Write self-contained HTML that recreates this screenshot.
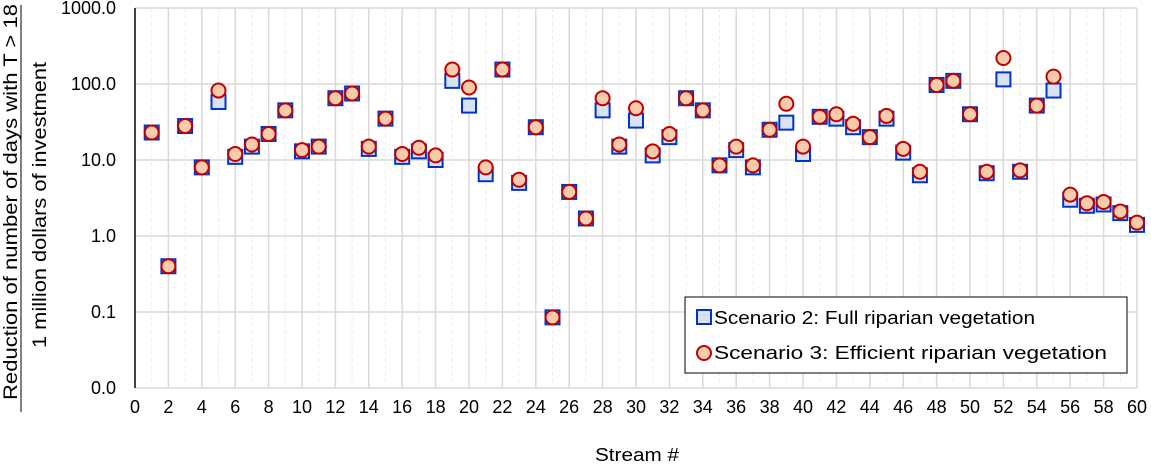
<!DOCTYPE html>
<html><head><meta charset="utf-8"><style>
body{margin:0;background:#fff;}
svg text{font-family:"Liberation Sans",sans-serif;fill:#000;}
</style></head><body>
<svg id="chart" width="1151" height="463" xmlns="http://www.w3.org/2000/svg">
<g id="grid"></g>
<g id="axes"></g>
<g id="marks"></g>
<text x="637" y="461" font-size="18" text-anchor="middle" textLength="84" lengthAdjust="spacingAndGlyphs">Stream #</text>
<g>
<text x="0" y="0" font-size="19" text-anchor="middle" textLength="396" lengthAdjust="spacingAndGlyphs" transform="translate(17,202) rotate(-90)">Reduction of number of days with T &gt; 18</text>
<line x1="21" y1="5" x2="21" y2="412" stroke="#000" stroke-width="1"/>
<text x="0" y="0" font-size="19" text-anchor="middle" textLength="286" lengthAdjust="spacingAndGlyphs" transform="translate(46,205) rotate(-90)">1 million dollars of investment</text>
</g>
<g>
<rect x="685" y="297" width="442" height="76" fill="#fff" stroke="#000" stroke-width="1"/>
<g>
<rect x="697" y="310" width="14" height="14" fill="#dae3f3" stroke="#0033cc" stroke-width="2"/>
<text x="714" y="324" font-size="18" textLength="321" lengthAdjust="spacingAndGlyphs">Scenario 2: Full riparian vegetation</text>
</g>
<g>
<circle cx="704" cy="353" r="7" fill="#f8cbad" stroke="#c00000" stroke-width="2"/>
<text x="714" y="359" font-size="18" textLength="393" lengthAdjust="spacingAndGlyphs">Scenario 3: Efficient riparian vegetation</text>
</g>
</g>
</svg>
<script>
const streams=[];for(let i=1;i<=60;i++)streams.push(i);
const scenario2=[23,0.4,28,8,58,11,15,22,45,13,15,65,75,14,35,11,13,10,110,52,6.5,155,5,27,0.085,3.8,1.7,45,15,33,11.5,20,65,45,8.5,13.5,8,25,31,12,37,35,27,20,35,12.5,6.3,97,110,40,6.7,115,7,52,82,3.0,2.5,2.6,2.0,1.4];
const scenario3=[23,0.4,28,8,82,12,16,22,45,13.5,15,65,75,15,35,12,14.5,11.5,155,90,8,155,5.5,27,0.085,3.8,1.7,65,16,48,13,22,65,45,8.5,15,8.5,25,55,15,37,40,30,20,38,14,7,97,110,40,7,220,7.3,52,125,3.5,2.7,2.8,2.1,1.5];
const yTicks=[0.01,0.1,1,10,100,1000];
const yTickLabels=["0.0","0.1","1.0","10.0","100.0","1000.0"];
const xTicks=[];for(let i=0;i<=60;i+=2)xTicks.push(i);

const X0=135,X1=1137,Y0=388,Y1=8;
function xs(v){return X0+(v-0)/60*(X1-X0);}
function ys(v){return Y0-(Math.log10(v)+2)/5*(Y0-Y1);}
const NS="http://www.w3.org/2000/svg";
function mk(tag,attrs,parent){const e=document.createElementNS(NS,tag);for(const k in attrs)e.setAttribute(k,attrs[k]);parent.appendChild(e);return e;}
const grid=document.getElementById('grid'),axes=document.getElementById('axes'),marks=document.getElementById('marks');
for(let i=1;i<=60;i++){
  const l=mk('line',{x1:xs(i),x2:xs(i),y1:Y1,y2:Y0,stroke:i%2?'#ececec':'#d9d9d9','stroke-width':i%2?1:1.5},grid);
  if(i%2)l.setAttribute('stroke-dasharray','4,3');
  
  
}
yTicks.forEach((t,i)=>{
  const l=mk('line',{x1:X0,x2:X1,y1:ys(t),y2:ys(t),stroke:'#d9d9d9','stroke-width':1.5},grid);
  
  
  const tx=mk('text',{x:116,y:ys(t)+6,'font-size':18,'text-anchor':'end'},axes);
  tx.textContent=yTickLabels[i];
  
  
});
xTicks.forEach(t=>{
  const tx=mk('text',{x:xs(t),y:413,'font-size':18,'text-anchor':'middle'},axes);
  tx.textContent=t;
  
  
});
const ax=mk('line',{x1:X0,x2:X0,y1:Y1,y2:Y0,stroke:'#404040','stroke-width':2},axes);


streams.forEach((s,i)=>{
  const r=mk('rect',{x:xs(s)-7,y:ys(scenario2[i])-7,width:14,height:14,fill:'#dae3f3',stroke:'#0033cc','stroke-width':2},marks);
  
  
});
streams.forEach((s,i)=>{
  const c=mk('circle',{cx:xs(s),cy:ys(scenario3[i]),r:7,fill:'#f8cbad',stroke:'#c00000','stroke-width':2},marks);
  
  
});
</script>
</body></html>
